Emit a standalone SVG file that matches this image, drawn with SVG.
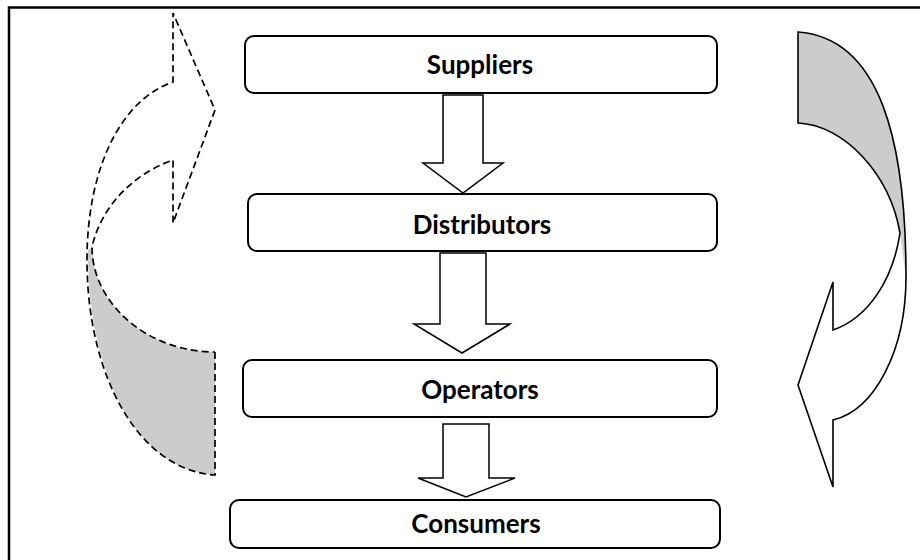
<svg xmlns="http://www.w3.org/2000/svg" width="920" height="560" viewBox="0 0 920 560">
  <style>
    .box { fill: #ffffff; stroke: #000000; stroke-width: 2; }
    .label { font-family: Lato, "Open Sans", "Liberation Sans", sans-serif; font-weight: 700; font-size: 26px; fill: #000000; text-anchor: middle; }
    .block { fill: #ffffff; stroke: #000000; stroke-width: 1.5; stroke-linejoin: miter; }
    .band { fill: #cccccc; stroke: none; }
    .solid-outline { fill: none; stroke: #000000; stroke-width: 1.6; }
    .dashed-outline { fill: none; stroke: #000000; stroke-width: 1.7; stroke-dasharray: 7 4; }
  </style>

  <rect width="920" height="560" fill="#ffffff"/>

  <!-- frame (top and left edges) -->
  <path d="M9,560 L9,7.5 L920,7.5" fill="none" stroke="#000000" stroke-width="2.5"/>

  <!-- connectors: downward block arrows and the two curved return arrows -->
  <g id="connectors">
    <path class="block" d="M443,95 L483,95 L483,163 L503,163 L463,193 L423,163 L443,163 Z"/>
    <path class="block" d="M440,253 L486,253 L486,324 L510,324 L462,353 L414,324 L440,324 Z"/>
    <path class="block" d="M443,424 L489,424 L489,478 L515,478 L466,497 L418,478 L443,478 Z"/>

    <!-- left curved arrow, dashed, pointing up-right -->
    <g id="curve-left">
      <path class="band" d="M88,250 C87,375 138,470 215,475 L215,352 C147,352 92,303 92,247 Z"/>
      <path class="dashed-outline" d="M215,352 L215,475 C138,470 87,375 87,260 C87,170 120,100 173,82 L173,13 L215,110 L173,223 L173,160 C130,175 100,210 92,247 C92,303 147,352 215,352"/>
    </g>

    <!-- right curved arrow, solid, pointing down-left -->
    <g id="curve-right">
      <path class="band" d="M798,32 C880,38 906,140 906,277 L900,233 C890,175 845,125 798,123 Z"/>
      <path class="solid-outline" d="M798,123 L798,32 C880,38 906,140 906,277 C906,350 875,410 833,420 L833,487 L798,385 L833,282 L833,330 C868,318 893,280 900,233 C890,175 845,125 798,123 Z"/>
    </g>
  </g>

  <g id="suppliers">
    <rect class="box" x="245" y="36" width="472" height="57" rx="9"/>
    <text class="label" x="480" y="74">Suppliers</text>
  </g>

  <g id="distributors">
    <rect class="box" x="248" y="194" width="469" height="57" rx="9"/>
    <text class="label" x="482" y="234">Distributors</text>
  </g>

  <g id="operators">
    <rect class="box" x="243" y="360" width="474" height="57" rx="9"/>
    <text class="label" x="480" y="399">Operators</text>
  </g>

  <g id="consumers">
    <rect class="box" x="230" y="500" width="490" height="48" rx="9"/>
    <text class="label" x="476" y="533">Consumers</text>
  </g>
</svg>
